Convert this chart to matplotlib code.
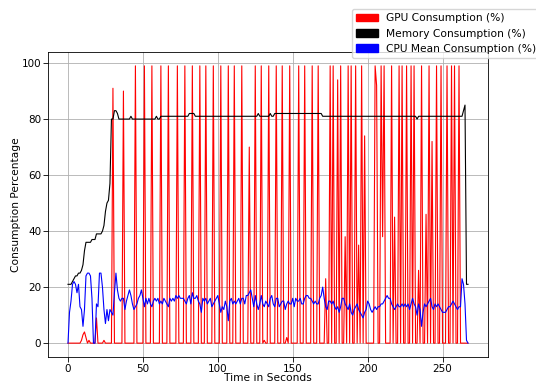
import matplotlib
matplotlib.use("Agg")
import matplotlib.pyplot as plt
from matplotlib.patches import Patch

# time in seconds (one sample per second)
time_s = list(range(268))

gpu = [0] * 268
gpu_events = {
    9: 1, 10: 3, 11: 4, 12: 2, 14: 1, 19: 9, 24: 1,
    30: 91, 37: 90, 45: 99, 51: 99, 56: 99, 62: 99, 67: 99, 73: 99, 78: 99,
    83: 99, 88: 99, 92: 99, 97: 99, 102: 99, 107: 99, 111: 99, 116: 99,
    121: 70, 125: 99, 129: 99, 131: 1, 134: 99, 139: 99, 143: 99, 146: 2,
    148: 99, 154: 99, 158: 99, 163: 99, 167: 99, 172: 23, 175: 99, 177: 99,
    180: 94, 182: 99, 185: 38, 187: 99, 189: 99, 192: 99, 194: 35, 196: 99,
    198: 74, 205: 99, 206: 92, 209: 99, 210: 38, 211: 99, 216: 99, 218: 45,
    221: 99, 223: 99, 226: 99, 229: 99, 231: 99, 234: 26, 236: 99, 239: 46,
    241: 99, 243: 72, 246: 99, 249: 99, 253: 99, 256: 99, 258: 99, 261: 99,
}
for _t, _v in gpu_events.items():
    gpu[_t] = _v

memory = [
    21, 21, 21, 22, 23, 24, 24, 25, 25, 26,   # 0-9
    28, 33, 36, 36, 36, 36, 37, 37, 37, 39,   # 10-19
    39, 39, 39, 40, 42, 47, 50, 51, 57, 80,   # 20-29
    80, 83, 83, 82, 80, 80, 80, 80, 80, 80,   # 30-39
    80, 80, 81, 80, 80, 80, 80, 80, 80, 80,   # 40-49
    80, 80, 80, 80, 80, 80, 80, 80, 80, 81,   # 50-59
    80, 80, 81, 81, 81, 81, 81, 81, 81, 81,   # 60-69
    81, 81, 81, 81, 81, 81, 81, 81, 81, 81,   # 70-79
    81, 82, 82, 82, 82, 81, 81, 81, 81, 81,   # 80-89
    81, 81, 81, 81, 81, 81, 81, 81, 81, 81,   # 90-99
    81, 81, 81, 81, 81, 81, 81, 81, 81, 81,   # 100-109
    81, 81, 81, 81, 81, 81, 81, 81, 81, 81,   # 110-119
    81, 81, 81, 81, 81, 81, 81, 82, 81, 81,   # 120-129
    81, 81, 81, 81, 81, 82, 81, 81, 82, 82,   # 130-139
    82, 82, 82, 82, 82, 82, 82, 82, 82, 82,   # 140-149
    82, 82, 82, 82, 82, 82, 82, 82, 82, 82,   # 150-159
    82, 82, 82, 82, 82, 82, 82, 82, 82, 82,   # 160-169
    81, 81, 81, 81, 81, 81, 81, 81, 81, 81,   # 170-179
    81, 81, 81, 81, 81, 81, 81, 81, 81, 81,   # 180-189
    81, 81, 81, 81, 81, 81, 81, 81, 81, 81,   # 190-199
    81, 81, 81, 81, 81, 81, 81, 81, 81, 81,   # 200-209
    81, 81, 81, 81, 81, 81, 81, 81, 81, 81,   # 210-219
    81, 81, 81, 81, 81, 81, 81, 81, 81, 81,   # 220-229
    81, 81, 81, 80, 81, 81, 81, 81, 81, 81,   # 230-239
    81, 81, 81, 81, 81, 81, 81, 81, 81, 81,   # 240-249
    81, 81, 81, 81, 81, 81, 81, 81, 81, 81,   # 250-259
    81, 81, 81, 81, 83, 85, 21, 21,           # 260-267
]

cpu = [
    0, 11, 15, 21, 22, 21, 18, 21, 13, 12,
    6, 12, 24, 25, 25, 24, 16, 0, 0, 14,
    13, 25, 25, 20, 12, 7, 12, 8, 12, 11,
    10, 18, 25, 19, 16, 15, 16, 16, 12, 15,
    17, 19, 17, 14, 12, 13, 14, 16, 17, 19,
    16, 13, 16, 14, 16, 14, 13, 15, 16, 15,
    16, 14, 15, 14, 16, 15, 14, 13, 16, 15,
    16, 15, 17, 16, 17, 16, 16, 16, 15, 14,
    16, 17, 14, 18, 16, 16, 17, 15, 14, 11,
    16, 15, 16, 14, 15, 16, 13, 14, 15, 16,
    17, 14, 11, 13, 12, 15, 13, 8, 15, 16,
    14, 15, 14, 15, 16, 14, 16, 16, 14, 17,
    17, 18, 19, 16, 13, 17, 14, 12, 14, 17,
    14, 13, 15, 14, 13, 16, 17, 14, 13, 16,
    16, 13, 14, 15, 15, 12, 14, 15, 14, 14,
    16, 13, 16, 15, 15, 16, 14, 14, 16, 17,
    17, 16, 16, 15, 14, 15, 14, 14, 16, 17,
    20, 16, 13, 12, 15, 15, 14, 15, 13, 12,
    13, 11, 13, 16, 16, 14, 13, 12, 14, 11,
    10, 12, 13, 14, 12, 11, 10, 9, 11, 12,
    15, 14, 12, 11, 12, 13, 12, 13, 13, 14,
    14, 15, 16, 17, 16, 16, 14, 13, 12, 13,
    14, 13, 13, 14, 13, 14, 13, 14, 12, 14,
    16, 14, 13, 10, 14, 12, 6, 11, 14, 13,
    14, 15, 16, 13, 12, 14, 13, 14, 13, 12,
    11, 11, 11, 12, 13, 13, 14, 15, 14, 13,
    12, 13, 13, 23, 21, 14, 1, 0,
]

labels = ["GPU Consumption (%)", "Memory Consumption (%)", "CPU Mean Consumption (%)"]
colors = ["red", "black", "blue"]

plt.rcParams["font.size"] = 7.7
plt.rcParams["font.family"] = "DejaVu Sans"

fig = plt.figure(figsize=(5.36, 3.85), dpi=100)
ax = fig.add_axes([48 / 536, 1 - 357 / 385, 440 / 536, 305 / 385])

ax.plot(time_s, gpu, color=colors[0], lw=0.8)
ax.plot(time_s, memory, color=colors[1], lw=0.8)
ax.plot(time_s, cpu, color=colors[2], lw=0.8)

ax.grid(True, color="#b0b0b0", lw=0.6)
ax.set_axisbelow(True)
ax.set_xlabel("Time in Seconds")
ax.set_ylabel("Consumption Percentage")
ax.xaxis.set_label_coords(0.5, -0.054)
ax.yaxis.set_label_coords(-0.062, 0.5)
ax.set_xticks([0, 50, 100, 150, 200, 250])
ax.set_yticks([0, 20, 40, 60, 80, 100])
for s in ax.spines.values():
    s.set_linewidth(0.6)
ax.tick_params(width=0.6, length=3.3, pad=1.5, labelsize=7.5)

handles = [Patch(color=c, label=l) for c, l in zip(colors, labels)]
fig.legend(handles=handles, loc="upper left",
           bbox_to_anchor=(352 / 536, 1 - 9 / 385),
           bbox_transform=fig.transFigure, borderaxespad=0,
           fancybox=True, framealpha=0.8)

fig.savefig("out.png", dpi=100)
